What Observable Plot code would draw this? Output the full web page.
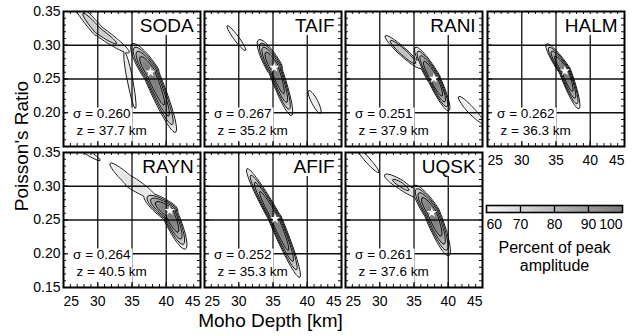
<!DOCTYPE html>
<html>
<head>
<meta charset="utf-8">
<script src="https://cdn.jsdelivr.net/npm/d3@7"></script>
<script src="https://cdn.jsdelivr.net/npm/@observablehq/plot@0.6"></script>
<style>
  html, body { margin: 0; padding: 0; background: white; }
  #chart { position: relative; width: 638px; height: 336px; background: white; overflow: hidden;
           font-family: "Liberation Sans", Arial, Helvetica, sans-serif; color: black; }
  #chart svg { position: absolute; }
  .title { position: absolute; white-space: nowrap; font-size: 19px; line-height: 1; transform: translate(-50%, -50%); }
</style>
</head>
<body>
<div id="chart"></div>
<script>
// ---------------- data ----------------
const stations = ["SODA", "TAIF", "RANI", "HALM", "RAYN", "AFIF", "UQSK"];
const peakSigma = [0.260, 0.267, 0.251, 0.262, 0.264, 0.252, 0.261];
const peakDepth = [37.7, 35.2, 37.9, 36.3, 40.5, 35.3, 37.6];

// stacking-amplitude lobes of each station:
// [depth, sigma of lobe centre, depth, sigma of upper tip, depth, sigma of lower tip,
//  half-width upper (km), half-width lower (km), relative amplitude]
const lobesSODA = [
  [37.7, 0.260, 35.0, 0.302, 41.35, 0.171, 1.25, 1.15, 1.0],
  [30.0, 0.322, 26.4, 0.364, 34.6, 0.289, 0.8, 0.75, 0.74],
  [34.7, 0.249, 33.9, 0.290, 35.5, 0.206, 0.42, 0.4, 0.66],
  [45.4, 0.205, 45.0, 0.212, 45.8, 0.198, 0.25, 0.25, 0.62]
];
const lobesTAIF = [
  [35.2, 0.267, 32.9, 0.308, 37.7, 0.196, 1.15, 1.0, 1.0],
  [29.65, 0.3105, 28.3, 0.329, 31.0, 0.292, 0.37, 0.37, 0.64],
  [41.1, 0.216, 40.2, 0.233, 41.95, 0.199, 0.45, 0.45, 0.64]
];
const lobesRANI = [
  [37.9, 0.251, 35.2, 0.297, 40.1, 0.203, 0.95, 0.9, 1.0],
  [33.4, 0.290, 30.8, 0.314, 36.0, 0.266, 0.6, 0.6, 0.78],
  [43.2, 0.205, 41.5, 0.224, 45.3, 0.183, 0.5, 0.5, 0.64]
];
const lobesHALM = [
  [36.3, 0.262, 33.6, 0.302, 38.35, 0.206, 0.85, 0.85, 1.0]
];
const lobesRAYN = [
  [40.4, 0.262, 36.8, 0.288, 42.8, 0.207, 1.3, 1.15, 1.0],
  [34.8, 0.306, 31.8, 0.334, 38.5, 0.282, 0.7, 0.85, 0.67],
  [28.2, 0.352, 26.5, 0.362, 30.4, 0.338, 0.35, 0.35, 0.63]
];
const lobesAFIF = [
  [35.3, 0.252, 31.2, 0.326, 38.9, 0.165, 0.9, 0.95, 1.0]
];
const lobesUQSK = [
  [37.6, 0.261, 35.0, 0.301, 40.1, 0.197, 1.15, 1.15, 1.0],
  [33.0, 0.303, 30.7, 0.317, 35.6, 0.284, 0.65, 0.65, 0.72],
  [28.2, 0.339, 26.3, 0.362, 29.9, 0.320, 0.37, 0.37, 0.64]
];
const lobes = [lobesSODA, lobesTAIF, lobesRANI, lobesHALM, lobesRAYN, lobesAFIF, lobesUQSK];

// axes
const depthDomain = [25, 45];
const sigmaDomain = [0.15, 0.35];
const gridDepth = [30, 35, 40];
const gridSigma = [0.20, 0.25, 0.30];
const depthTicksMid = [30, 35, 40];
const depthTickFirst = [25];
const depthTickLast = [45];
const sigmaTicksTop = [0.20, 0.25, 0.30, 0.35];
const sigmaTicksBottom = [0.15, 0.20, 0.25, 0.30, 0.35];
const contourLevels = [0.6, 0.7, 0.8, 0.9];
const legendTicksMid = [70, 80, 90];
const legendTickFirst = [60];
const legendTickLast = [100];

// ---------------- layout ----------------
const FW = 137, FH = 135, ML = 40, MR = 10, MT = 10, MB = 26;
const colLeft = [63, 204, 345, 487];
const rowTop = [11, 152];
const panelCol = [0, 1, 2, 3, 0, 1, 2];
const panelRow = [0, 0, 0, 0, 1, 1, 1];
const FONT = '"Liberation Sans", Arial, Helvetica, sans-serif';
const colorScale = {type: "linear", domain: [0.6, 1], range: ["#f6f6f6", "#7a7a7a"]};
const fillLevels = d3.range(60, 100, 1).map(v => v / 100);
const SHAPE_POWER = 2.6;

// pixel metric of the frame (px per km, px per unit sigma) to shape the lobes
const PXK = FW / (depthDomain[1] - depthDomain[0]);
const PXS = FH / (sigmaDomain[1] - sigmaDomain[0]);

function field(list) {
  const L = list.map(([hc, sc, hu, su, hd, sd, wu, wd, a]) => {
    const cx = hc * PXK, cy = sc * PXS;
    const half = (h, s, w) => {
      const vx = h * PXK - cx, vy = s * PXS - cy, l = Math.hypot(vx, vy);
      return {ux: vx / l, uy: vy / l, l, w: w * PXK};
    };
    return {cx, cy, halves: [half(hu, su, wu), half(hd, sd, wd)], a, k: Math.log(a / 0.6)};
  });
  return (h, s) => {
    const X = h * PXK, Y = s * PXS;
    let best = 0;
    for (const b of L) {
      const px = X - b.cx, py = Y - b.cy;
      for (const q of b.halves) {
        const t = px * q.ux + py * q.uy;
        const n = px * q.uy - py * q.ux;
        const r2 = t > 0 ? (t / q.l) ** 2 + (n / q.w) ** 2 : (px * px + py * py) / (q.w * q.w);
        const v = b.a * Math.exp(-b.k * Math.pow(r2, SHAPE_POWER / 2));
        if (v > best) best = v;
      }
    }
    return best;
  };
}

const chart = document.getElementById("chart");
const ext = {x1: depthDomain[0], x2: depthDomain[1], y1: sigmaDomain[0], y2: sigmaDomain[1]};

function panel(i) {
  const c = panelCol[i], r = panelRow[i];
  const f = field(lobes[i]);
  const showX = r === 1 || c === 3;
  const showY = c === 0;
  const tickFont = {fontSize: 14, label: null};
  const marks = [
    Plot.contour({...ext, fill: f, thresholds: fillLevels, stroke: "none", pixelSize: 1, clip: true}),
    Plot.ruleX(gridDepth, {stroke: "#111", strokeWidth: 1.3}),
    Plot.ruleY(gridSigma, {stroke: "#111", strokeWidth: 1.3}),
    Plot.rect([0], {x1: 25, x2: 35.15, y1: 0.15, y2: 0.207, fill: "white"}),
    Plot.rect([0], {x1: 35.7, x2: 45, y1: 0.3144, y2: 0.35, fill: "white"}),
    Plot.contour({...ext, value: f, thresholds: contourLevels, stroke: "black", fill: "none", strokeWidth: 0.9, pixelSize: 1, clip: true}),
    Plot.dot([[peakDepth[i], peakSigma[i]]], {x: d => d[0], y: d => d[1], symbol: "star", r: 3.2, fill: "white", stroke: "none"}),
    Plot.text([`σ = ${peakSigma[i].toFixed(3)}`], {x: 26.4, y: 0.199, textAnchor: "start", fontSize: 13.5}),
    Plot.text([`z = ${peakDepth[i].toFixed(1)} km`], {x: 26.9, y: 0.174, textAnchor: "start", fontSize: 13.5}),
    Plot.text([stations[i]], {x: 44.0, y: 0.329, textAnchor: "end", fontSize: 19}),
    // inward ticks
    Plot.ruleX(d3.range(26, 45), {insetTop: FH - 3, stroke: "#111"}),
    Plot.ruleX(d3.range(26, 45), {insetBottom: FH - 3, stroke: "#111"}),
    Plot.ruleX(gridDepth, {insetTop: FH - 5, stroke: "#111", strokeWidth: 1.3}),
    Plot.ruleY(d3.range(16, 35).map(v => v / 100), {insetRight: FW - 3, stroke: "#111"}),
    Plot.ruleY(d3.range(16, 35).map(v => v / 100), {insetLeft: FW - 3, stroke: "#111"}),
    Plot.ruleY(gridSigma, {insetRight: FW - 5, stroke: "#111", strokeWidth: 1.3}),
    Plot.frame({stroke: "black", strokeWidth: 2})
  ];
  if (showX) {
    marks.push(
      Plot.axisX(depthTickFirst, {anchor: "bottom", tickSize: 0, tickPadding: 9, textAnchor: "start", ...tickFont}),
      Plot.axisX(depthTicksMid, {anchor: "bottom", tickSize: 0, tickPadding: 9, ...tickFont}),
      Plot.axisX(depthTickLast, {anchor: "bottom", tickSize: 0, tickPadding: 9, textAnchor: "end", ...tickFont})
    );
  }
  if (showY) {
    marks.push(Plot.axisY(r === 0 ? sigmaTicksTop : sigmaTicksBottom,
      {anchor: "left", tickSize: 0, tickPadding: 3, tickFormat: d3.format(".2f"), ...tickFont}));
  }
  const svg = Plot.plot({
    width: ML + FW + MR, height: MT + FH + MB,
    marginLeft: ML, marginRight: MR, marginTop: MT, marginBottom: MB,
    x: {domain: depthDomain, axis: null},
    y: {domain: sigmaDomain, axis: null},
    color: colorScale,
    style: {background: "none", overflow: "visible", fontFamily: FONT, fontSize: "14px", color: "black"},
    marks
  });
  svg.style.left = (colLeft[c] - ML) + "px";
  svg.style.top = (rowTop[r] - MT) + "px";
  chart.appendChild(svg);
}
stations.forEach((_, i) => panel(i));

// colour bar legend
const legend = Plot.plot({
  width: 10 + 136 + 10, height: 5 + 7 + 70,
  marginLeft: 10, marginRight: 10, marginTop: 5, marginBottom: 70,
  x: {domain: [60, 100], axis: null},
  y: {domain: [0, 1], axis: null},
  color: colorScale,
  style: {background: "none", overflow: "visible", fontFamily: FONT, fontSize: "14px", color: "black"},
  marks: [
    Plot.raster({x1: 60, x2: 100, y1: 0, y2: 1, fill: (x) => x / 100, pixelSize: 1}),
    Plot.ruleX(legendTicksMid, {stroke: "black", strokeWidth: 1.3}),
    Plot.frame({stroke: "black", strokeWidth: 1.6}),
    Plot.axisX(legendTickFirst, {anchor: "bottom", tickSize: 0, tickPadding: 7, textAnchor: "start", fontSize: 14, label: null}),
    Plot.axisX(legendTicksMid, {anchor: "bottom", tickSize: 0, tickPadding: 7, fontSize: 14, label: null}),
    Plot.axisX(legendTickLast, {anchor: "bottom", tickSize: 0, tickPadding: 7, textAnchor: "end", fontSize: 14, label: null}),
    Plot.text(["Percent of peak\namplitude"], {frameAnchor: "bottom", lineAnchor: "top", dy: 27.6, fontSize: 16, lineHeight: 1.14})
  ]
});
legend.style.left = "476px";
legend.style.top = "200px";
chart.appendChild(legend);

// axis titles
const yt = document.createElement("div");
yt.className = "title";
yt.textContent = "Poisson's Ratio";
yt.style.left = "21px"; yt.style.top = "146px";
yt.style.transform = "translate(-50%, -50%) rotate(-90deg)";
chart.appendChild(yt);
const xt = document.createElement("div");
xt.className = "title";
xt.textContent = "Moho Depth [km]";
xt.style.left = "270.5px"; xt.style.top = "320.4px";
chart.appendChild(xt);
</script>
</body>
</html>
